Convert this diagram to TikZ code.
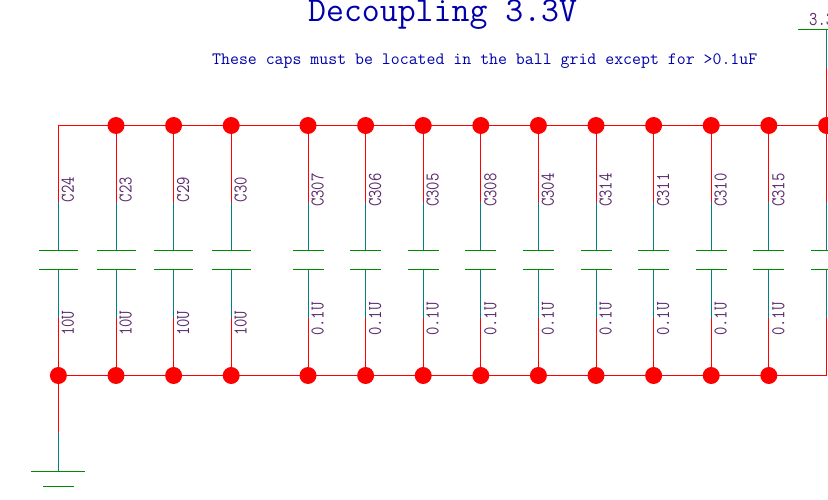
\documentclass[tikz,border=0pt]{standalone}
\usepackage{fontspec}
\usepackage{graphicx}
\definecolor{wirered}{HTML}{FF0000}
\definecolor{pinteal}{HTML}{008080}
\definecolor{plategreen}{HTML}{008A00}
\definecolor{lblpurple}{HTML}{5A2A6A}
\definecolor{noteblue}{HTML}{0000AA}
\newcommand{\tallpart}[1]{\scalebox{1}[1.2]{#1}}
\tikzset{
  wire/.style={draw=wirered,line width=1pt},
  pin/.style={draw=pinteal,line width=1pt},
  plate/.style={draw=plategreen,line width=1pt},
  junction/.style={circle,fill=wirered,draw=none,minimum size=17pt,inner sep=0pt},
  partlabel/.style={font=\ttfamily\fontsize{16.3}{16}\selectfont,text=lblpurple,inner sep=0pt,rotate=90,anchor=base west},
  note/.style={text=noteblue,inner sep=0pt,anchor=base west}
}
\begin{document}
\begin{tikzpicture}[x=1pt,y=-1pt]
\useasboundingbox (0,0) rectangle (828,500);
\clip (0,0) rectangle (828,500);
% rails
\coordinate (tl) at (58.4,125.5);
\coordinate (tr) at (826.6,125.5);
\coordinate (brc) at (826.6,375.5);
\draw[wire] (tl) -- (tr);
\draw[wire] (58.4,375.5) -- (brc);
% capacitors
\foreach \i/\x/\hw/\ref/\val/\ry/\vy in {
 a/58.4/19.5/C24/10U/202.5/336,
 b/116/19.5/C23/10U/202.5/336,
 c/173.6/19.5/C29/10U/202.5/336,
 d/231.2/19.5/C30/10U/202.5/336,
 e/308/15.5/C307/0.1U/207/336,
 f/365.6/15.5/C306/0.1U/207/336,
 g/423.2/15.5/C305/0.1U/207/336,
 h/480.8/15.5/C308/0.1U/207/336,
 i/538.4/15.5/C304/0.1U/207/336,
 j/596/15.5/C314/0.1U/207/336,
 k/653.6/15.5/C311/0.1U/207/336,
 l/711.2/15.5/C310/0.1U/207/336,
 m/768.8/15.5/C315/0.1U/207/336,
 n/826.6/15.5/{}/{}/207/336}{
  \coordinate (top\i) at (\x,125.5);
  \coordinate (pa\i) at (\x,202);
  \coordinate (ca\i) at (\x,250.5);
  \coordinate (cb\i) at (\x,269.5);
  \coordinate (pb\i) at (\x,318);
  \coordinate (bot\i) at (\x,375.5);
  \coordinate (al\i) at (\x-\hw,250.5);
  \coordinate (ar\i) at (\x+\hw,250.5);
  \coordinate (bl\i) at (\x-\hw,269.5);
  \coordinate (br\i) at (\x+\hw,269.5);
  \draw[wire] (top\i) -- (pa\i);
  \draw[pin] (pa\i) -- (ca\i);
  \draw[pin] (cb\i) -- (pb\i);
  \draw[wire] (pb\i) -- (bot\i);
  \draw[plate] (al\i) -- (ar\i);
  \draw[plate] (bl\i) -- (br\i);
  \node[partlabel] (ref\i) at (\x+15.5,\ry) {\tallpart{\ref}};
  \node[partlabel] (val\i) at (\x+15.5,\vy) {\tallpart{\val}};
}
% junctions
\foreach \i in {b,c,d,e,f,g,h,i,j,k,l,m,n}{
  \node[junction] (jt\i) at (top\i) {};
}
\foreach \i in {a,b,c,d,e,f,g,h,i,j,k,l,m}{
  \node[junction] (jb\i) at (bot\i) {};
}
% ground
\coordinate (gp) at (58.4,433);
\coordinate (gs) at (58.4,471.5);
\coordinate (g1l) at (31,471.5);
\coordinate (g1r) at (85,471.5);
\coordinate (g2l) at (43,486.5);
\coordinate (g2r) at (73.5,486.5);
\draw[wire] (jba) -- (gp);
\draw[pin] (gp) -- (gs);
\draw[plate] (g1l) -- (g1r);
\draw[plate] (g2l) -- (g2r);
% 3.3V supply
\coordinate (sp) at (826.6,68);
\coordinate (ss) at (826.6,29.5);
\coordinate (sl) at (798,29.5);
\coordinate (sr) at (840,29.5);
\draw[wire] (jtn) -- (sp);
\draw[pin] (sp) -- (ss);
\draw[plate] (sl) -- (sr);
\node[inner sep=0pt,anchor=base west,text=lblpurple,font=\ttfamily\fontsize{16.3}{16}\selectfont] (vcc) at (809,26) {\tallpart{3.3V}};
% text
\node[note,font=\ttfamily\fontsize{34.8}{34}\selectfont] (title) at (308,22) {Decoupling 3.3V};
\node[note,font=\ttfamily\fontsize{17.35}{17}\selectfont] (sub) at (212,64.5) {These caps must be located in the ball grid except for >0.1uF};
\end{tikzpicture}
\end{document}
